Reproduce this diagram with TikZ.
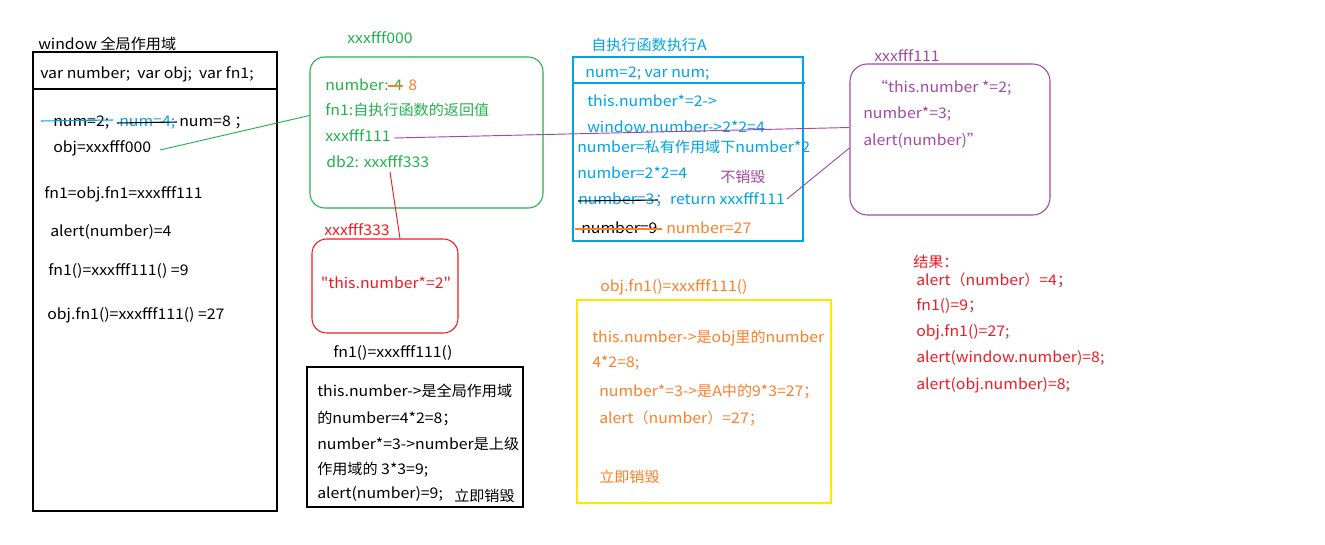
\documentclass[tikz,border=0pt]{standalone}
\usepackage{fontspec}
\setmainfont{Noto Sans CJK SC}[Ligatures=TeXOff,FakeStretch=1.08]
\newfontfamily\zhfont{Noto Sans CJK SC}[Ligatures=TeXOff,FakeStretch=1.03]
\newcommand\zh[1]{{\zhfont #1}}
\usetikzlibrary{fit,calc}
\definecolor{cgreen}{HTML}{22B14C}
\definecolor{cblue}{HTML}{00A2E8}
\definecolor{cpurple}{HTML}{A349A4}
\definecolor{cred}{HTML}{ED1C24}
\definecolor{corange}{HTML}{FF7F27}
\definecolor{cyellow}{HTML}{FFE800}
\begin{document}
\begin{tikzpicture}[x=0.75pt,y=-0.75pt,
  txt/.style={anchor=base west,inner sep=0pt,font=\fontsize{11pt}{13pt}\selectfont},
  sqbox/.style={draw,inner sep=0pt,line width=0.8pt},
  rbox/.style={draw,inner sep=0pt,line width=0.8pt,rounded corners=11pt},
  link/.style={line width=0.7pt}]
\useasboundingbox (0,0) rectangle (1325,545);

% ---------- window box
\node[txt] (winlbl) at (38,50) {window \zh{全局作用域}};
\node[sqbox,fit={(33,52) (277,511)}] (win) {};
\draw[line width=0.8pt] (33,89) -- (277,89);
\node[txt] (wvar) at (40,79) {var number;\ \ var obj;\ \ var fn1;};
\node[txt] (wn2) at (53,127) {num=2;};
\node[txt,text=cblue] (wn4) at (119,127) {num=4;};
\node[txt] (wn8) at (179,127) {num=8 \zh{；}};
\node[txt] (wobj) at (53,153) {obj=xxxfff000};
\node[txt] (wfn) at (44,199) {fn1=obj.fn1=xxxfff111};
\node[txt] (wal) at (50,237) {alert(number)=4};
\node[txt] (wf1) at (48,276) {fn1()=xxxfff111() =9};
\node[txt] (wo1) at (47,320) {obj.fn1()=xxxfff111() =27};
\draw[cblue,line width=0.8pt] (41,121) -- (113,120);
\draw[line width=0.8pt] (117,123) -- (177,122);

% ---------- green box
\node[txt,text=cgreen] (glbl) at (347,44) {xxxfff000};
\node[rbox,draw=cgreen,fit={(310,57) (543,208)}] (g) {};
\node[txt,text=cgreen] (gnum) at (325,91) {number: 4};
\node[txt,text=corange] (g8) at (408,91) {8};
\node[txt,text=cgreen] (gfn) at (325,116) {fn1:\zh{自执行函数的返回值}};
\node[txt,text=cgreen] (gx1) at (325,142) {xxxfff111};
\node[txt,text=cgreen] (gdb) at (326,168) {db2: xxxfff333};
\draw[corange,line width=0.8pt] (388,86) -- (403,86);

% ---------- red box
\node[txt,text=cred] (rlbl) at (324,236) {xxxfff333};
\node[rbox,draw=cred,fit={(312,239) (458,333)}] (r) {};
\node[txt,anchor=center,text=cred] (rtxt) at (386,283) {"this.number*=2"};

% ---------- bottom black box
\node[txt] (blbl) at (333,358) {fn1()=xxxfff111()};
\node[sqbox,fit={(307,367) (523,507)}] (b) {};
\node[txt] (b1) at (317,397) {this.number->\zh{是全局作用域}};
\node[txt] (b2) at (317,423) {\zh{的}number=4*2=8\zh{；}};
\node[txt] (b3) at (317,449) {number*=3->number\zh{是上级}};
\node[txt] (b4) at (317,474) {\zh{作用域的} 3*3=9;};
\node[txt] (b5) at (317,498) {alert(number)=9;};
\node[txt] (b6) at (454,501) {\zh{立即销毁}};

% ---------- blue box
\node[txt,text=cblue] (alb) at (591,51) {\zh{自执行函数执行}A};
\node[sqbox,draw=cblue,fit={(573,57) (803,241)}] (a) {};
\draw[cblue,line width=0.8pt] (573,83) -- (805,83);
\node[txt,text=cblue] (a1) at (585,78) {num=2; var num;};
\node[txt,text=cblue] (a2) at (587,107) {this.number*=2->};
\node[txt,text=cblue] (a3) at (587,133) {window.number->2*2=4};
\node[txt,text=cblue] (a4) at (577,153) {number=\zh{私有作用域下}number*2};
\node[txt,text=cblue] (a5) at (577,179) {number=2*2=4};
\node[txt,text=cpurple] (a6) at (720,183) {\zh{不销毁}};
\node[txt,text=cblue] (a7) at (578,205) {number=3};
\node[txt,text=cblue] (a8) at (a7.base east) {\zh{；}return xxxfff111};
\node[txt] (a9) at (581,234) {number=9};
\node[txt,text=corange] (a10) at (666,234) {number=27};
\draw[line width=0.8pt] (578,201) -- (658,200);
\draw[corange,line width=0.8pt] (575,229) -- (662,229);

% ---------- purple box
\node[txt,text=cpurple] (plbl) at (874,62) {xxxfff111};
\node[rbox,draw=cpurple,rounded corners=13pt,fit={(850,64) (1050,215)}] (p) {};
\node[txt,text=cpurple] (p1) at (872,93) {“this.number *=2;};
\node[txt,text=cpurple] (p2) at (863,119) {number*=3;};
\node[txt,text=cpurple] (p3) at (863,146) {alert(number)”};

% ---------- yellow box
\node[txt,text=corange] (ylbl) at (600,292) {obj.fn1()=xxxfff111()};
\node[sqbox,draw=cyellow,fit={(577,300) (831,503)}] (y) {};
\node[txt,text=corange] (y1) at (592,343) {this.number->\zh{是}obj\zh{里的}number};
\node[txt,text=corange] (y2) at (592,368) {4*2=8;};
\node[txt,text=corange] (y3) at (599,397) {number*=3->\zh{是}A\zh{中的}9*3=27\zh{；}};
\node[txt,text=corange] (y4) at (599,423) {alert\zh{（}number\zh{）}=27\zh{；}};
\node[txt,text=corange] (y5) at (599,482) {\zh{立即销毁}};

% ---------- results
\node[txt,text=cred] (res0) at (913,268) {\zh{结果：}};
\node[txt,text=cred] (res1) at (916,286) {alert\zh{（}number\zh{）}=4\zh{；}};
\node[txt,text=cred] (res2) at (916,311) {fn1()=9\zh{；}};
\node[txt,text=cred] (res3) at (916,337) {obj.fn1()=27;};
\node[txt,text=cred] (res4) at (916,363) {alert(window.number)=8;};
\node[txt,text=cred] (res5) at (916,389) {alert(obj.number)=8;};

% ---------- connectors
\coordinate (c1) at (160,150);
\draw[link,cgreen] (c1) -- ($(g.west)+(0,-17)$);
\coordinate (c2) at (394,138);
\draw[link,cpurple] (c2) -- ($(p.west)+(0,-12)$);
\coordinate (c3) at (390,172);
\draw[link,cred] (c3) -- ($(r.north)+(15,0)$);
\coordinate (c4) at (787,199);
\draw[link,cpurple] (c4) -- ($(p.west)+(0,8.5)$);
\end{tikzpicture}
\end{document}
